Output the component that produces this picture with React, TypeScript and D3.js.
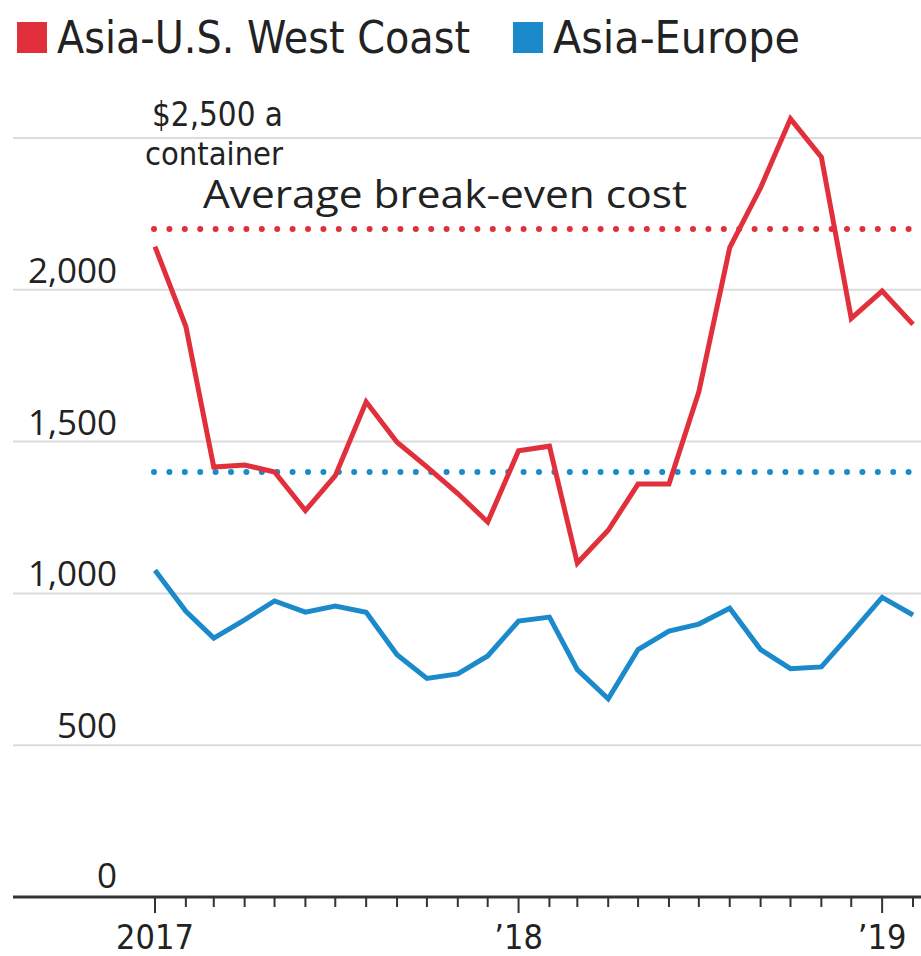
import { useEffect, useRef } from "react";
import * as d3 from "d3";

// monthly spot rates, Jan 2017 - Feb 2019 ($ per container)
const months = [
  "2017-01", "2017-02", "2017-03", "2017-04", "2017-05", "2017-06",
  "2017-07", "2017-08", "2017-09", "2017-10", "2017-11", "2017-12",
  "2018-01", "2018-02", "2018-03", "2018-04", "2018-05", "2018-06",
  "2018-07", "2018-08", "2018-09", "2018-10", "2018-11", "2018-12",
  "2019-01", "2019-02",
];
const westCoast = [
  2142, 1879, 1416, 1423, 1400, 1273, 1388, 1631, 1498, 1417, 1329, 1235,
  1470, 1485, 1100, 1208, 1360, 1360, 1664, 2139, 2336, 2563, 2437, 1906,
  1996, 1886,
];
const europe = [
  1076, 941, 853, 913, 975, 938, 958, 938, 798, 720, 735, 794,
  909, 922, 749, 653, 815, 876, 899, 951, 815, 752, 758, 869,
  987, 929,
];
const breakEven = [
  { name: "Asia-U.S. West Coast", value: 2200 },
  { name: "Asia-Europe", value: 1400 },
];
const yTicks = [0, 500, 1000, 1500, 2000, 2500];
const yearLabels = ["2017", "\u201918", "\u201919"];
const legendNames = ["Asia-U.S. West Coast", "Asia-Europe"];

const RED = "#e1303c";
const BLUE = "#1b8acb";
const NARROW = "'Liberation Sans Narrow', 'DejaVu Sans Condensed', sans-serif";
const SANS = "'Open Sans', 'Noto Sans', sans-serif";

const App = () => {
  const svgRef = useRef<SVGSVGElement>(null);

  useEffect(() => {
    const svg = d3.select(svgRef.current);
    svg.selectAll("*").remove();

    const width = 921;
    const height = 956;
    const parse = d3.timeParse("%Y-%m");
    const dates = months.map((m) => parse(m) as Date);

    const x = d3
      .scaleTime()
      .domain([dates[0], dates[dates.length - 1]])
      .range([155, 913]);
    const y = d3.scaleLinear().domain([0, 2500]).range([897, 138]);

    svg.append("rect").attr("width", width).attr("height", height).attr("fill", "#fff");

    // gridlines + y labels
    yTicks.forEach((t) => {
      if (t > 0) {
        svg
          .append("line")
          .attr("x1", 13)
          .attr("x2", width)
          .attr("y1", y(t))
          .attr("y2", y(t))
          .attr("stroke", "#dcdcdc")
          .attr("stroke-width", 2);
      }
      if (t < 2500) {
        svg
          .append("text")
          .attr("x", 117)
          .attr("y", y(t) - (t === 0 ? 9 : 7))
          .attr("text-anchor", "end")
          .attr("font-family", SANS)
          .attr("font-size", 35)
          .attr("fill", "#222")
          .text(d3.format(",")(t));
      }
    });

    // top label for 2,500
    svg
      .append("text")
      .attr("x", 152)
      .attr("y", y(2500) - 12)
      .attr("font-family", NARROW)
      .attr("font-size", 34)
      .attr("fill", "#222")
      .attr("textLength", 131)
      .attr("lengthAdjust", "spacingAndGlyphs")
      .text("$2,500 a");
    svg
      .append("text")
      .attr("x", 145)
      .attr("y", y(2500) + 27)
      .attr("font-family", NARROW)
      .attr("font-size", 32)
      .attr("fill", "#222")
      .attr("textLength", 138)
      .attr("lengthAdjust", "spacingAndGlyphs")
      .text("container");

    // break-even reference lines
    const colors = [RED, BLUE];
    breakEven.forEach((b, i) => {
      svg
        .append("line")
        .attr("x1", 154)
        .attr("x2", width)
        .attr("y1", y(b.value))
        .attr("y2", y(b.value))
        .attr("stroke", colors[i])
        .attr("stroke-width", 6)
        .attr("stroke-linecap", "round")
        .attr("stroke-dasharray", "0 15.4");
    });
    svg
      .append("text")
      .attr("x", 203)
      .attr("y", y(breakEven[0].value) - 21)
      .attr("font-family", SANS)
      .attr("font-size", 38)
      .attr("fill", "#222")
      .attr("textLength", 484)
      .attr("lengthAdjust", "spacingAndGlyphs")
      .text("Average break-even cost");

    // x axis
    svg
      .append("line")
      .attr("x1", 13)
      .attr("x2", width)
      .attr("y1", y(0))
      .attr("y2", y(0))
      .attr("stroke", "#333")
      .attr("stroke-width", 3);

    dates.forEach((d) => {
      const major = d.getMonth() === 0;
      svg
        .append("line")
        .attr("x1", x(d))
        .attr("x2", x(d))
        .attr("y1", y(0))
        .attr("y2", y(0) + (major ? 16 : 10))
        .attr("stroke", "#333")
        .attr("stroke-width", 2);
    });
    dates
      .filter((d) => d.getMonth() === 0)
      .forEach((d, i) => {
        svg
          .append("text")
          .attr("x", x(d))
          .attr("y", 949)
          .attr("text-anchor", "middle")
          .attr("font-family", NARROW)
          .attr("font-size", 34)
          .attr("fill", "#222")
          .text(yearLabels[i]);
      });

    // lines
    const line = d3
      .line<number>()
      .x((_, i) => x(dates[i]))
      .y((v) => y(v));

    [europe, westCoast].forEach((series, i) => {
      svg
        .append("path")
        .attr("d", line(series))
        .attr("fill", "none")
        .attr("stroke", i === 0 ? BLUE : RED)
        .attr("stroke-width", 5)
        .attr("stroke-linejoin", "miter");
    });

    // legend
    const legendX = [17, 513];
    const legendW = [413, 247];
    legendNames.forEach((name, i) => {
      svg
        .append("rect")
        .attr("x", legendX[i])
        .attr("y", 22)
        .attr("width", 30)
        .attr("height", 31)
        .attr("fill", colors[i]);
      svg
        .append("text")
        .attr("x", legendX[i] + 40)
        .attr("y", 53)
        .attr("font-family", NARROW)
        .attr("font-size", 44)
        .attr("fill", "#222")
        .attr("textLength", legendW[i])
        .attr("lengthAdjust", "spacingAndGlyphs")
        .text(name);
    });
  }, []);

  return (
    <svg
      ref={svgRef}
      width={921}
      height={956}
      style={{ position: "absolute", left: 0, top: 0, display: "block" }}
    ></svg>
  );
};

export default App;
